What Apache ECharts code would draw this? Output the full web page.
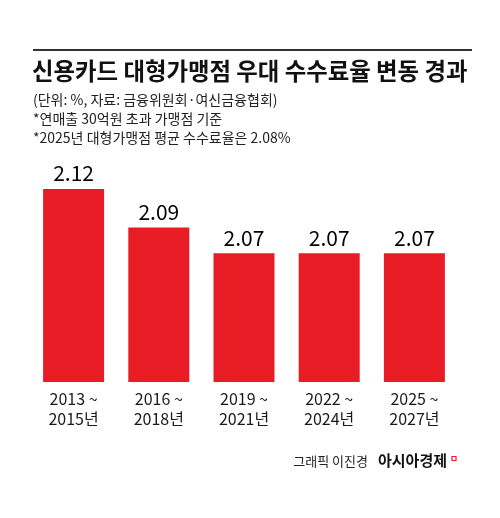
<!DOCTYPE html>
<html><head><meta charset="utf-8">
<script src="https://cdn.jsdelivr.net/npm/echarts@6/dist/echarts.min.js"></script>
<style>html,body{margin:0;padding:0;background:#fff}#c{width:500px;height:518px}</style>
</head><body><div id="c"></div>
<script>
const categories = ['2013 ~\n2015년', '2016 ~\n2018년', '2019 ~\n2021년', '2022 ~\n2024년', '2025 ~\n2027년'];
const rates = [2.12, 2.09, 2.07, 2.07, 2.07];
const titleText = '신용카드 대형가맹점 우대 수수료율 변동 경과';
const noteLines = ['(단위: %, 자료: 금융위원회·여신금융협회)', '*연매출 30억원 초과 가맹점 기준', '*2025년 대형가맹점 평균 수수료율은 2.08%'];
const credit = '그래픽 이진경';
const brand = '아시아경제';

const FONT = '"Noto Sans CJK KR", "Noto Sans", sans-serif';
const chart = echarts.init(document.getElementById('c'), null, {renderer: 'canvas'});
chart.setOption({
  backgroundColor: '#fff',
  animation: false,
  grid: {left: 31, right: 43, top: 189, bottom: 136, containLabel: false},
  xAxis: {
    type: 'category', data: categories,
    axisLine: {show: false}, axisTick: {show: false},
    axisLabel: {fontFamily: FONT, fontSize: 16, color: '#1a1a1a', lineHeight: 20, margin: 7, fontWeight: 'normal'}
  },
  yAxis: {type: 'value', min: 1.97, max: 2.12, show: false, splitLine: {show: false}},
  series: [{
    type: 'bar', data: rates, barWidth: 61,
    itemStyle: {color: '#e81c24'},
    label: {show: true, position: 'top', distance: 5, fontFamily: FONT, fontSize: 21, color: '#000',
      formatter: p => p.value.toFixed(2)}
  }],
  graphic: [
    {type: 'line', shape: {x1: 33, y1: 50, x2: 472, y2: 50}, style: {stroke: '#333', lineWidth: 2}},
    {type: 'text', left: 32, top: 59, style: {text: titleText, fontFamily: FONT, fontSize: 23.4, fontWeight: 'bold', fill: '#111'}},
    {type: 'text', left: 33, top: 93, style: {text: noteLines[0], fontFamily: FONT, fontSize: 14, fill: '#222'}},
    {type: 'text', left: 33, top: 112, style: {text: noteLines[1], fontFamily: FONT, fontSize: 14, fill: '#222'}},
    {type: 'text', left: 33, top: 131, style: {text: noteLines[2], fontFamily: FONT, fontSize: 14, fill: '#222'}},
    {type: 'text', right: 132, top: 455, style: {text: credit, fontFamily: FONT, fontSize: 13, fill: '#222'}},
    {type: 'text', right: 53, top: 453, style: {text: brand, fontFamily: FONT, fontSize: 15, fill: '#111', fontWeight: 'bold'}},
    {type: 'rect', shape: {x: 452, y: 456.5, width: 4, height: 4}, style: {fill: 'none', stroke: '#e81c24', lineWidth: 1.2}}
  ]
});
</script></body></html>
